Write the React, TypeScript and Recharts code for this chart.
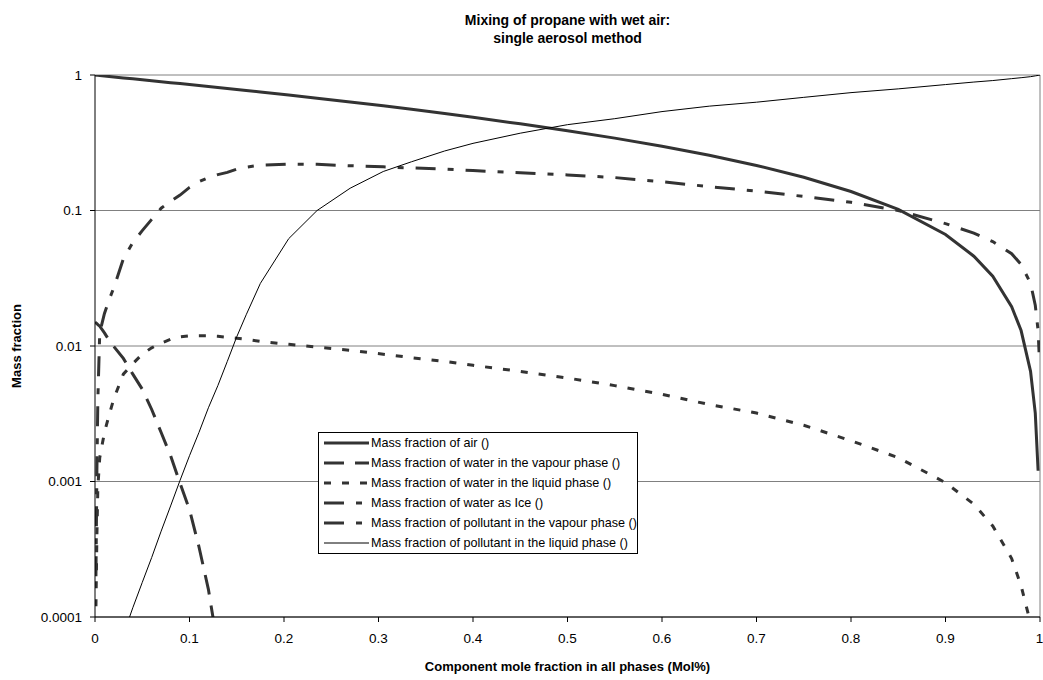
import React from 'react';
import { LineChart, Line, XAxis, YAxis, CartesianGrid, Legend, ReferenceLine } from 'recharts';

const FONT = '"Liberation Sans", Arial, Helvetica, sans-serif';

const xValues = [0, 0.001, 0.002, 0.003, 0.005, 0.01, 0.015, 0.02, 0.03, 0.04, 0.05, 0.06, 0.07, 0.08, 0.09, 0.1, 0.11, 0.12, 0.13, 0.14, 0.15, 0.16, 0.175, 0.205, 0.235, 0.27, 0.305, 0.335, 0.37, 0.4, 0.45, 0.5, 0.55, 0.6, 0.65, 0.7, 0.75, 0.8, 0.85, 0.9, 0.93, 0.95, 0.97, 0.98, 0.99, 0.995, 0.998, 0.999, 1];

const airFraction = [1, 0.998, 0.996, 0.994, 0.991, 0.983, 0.975, 0.967, 0.952, 0.937, 0.922, 0.907, 0.893, 0.878, 0.864, 0.85, 0.836, 0.822, 0.808, 0.795, 0.782, 0.769, 0.749, 0.711, 0.674, 0.633, 0.592, 0.558, 0.519, 0.487, 0.436, 0.388, 0.342, 0.298, 0.256, 0.215, 0.176, 0.138, 0.102, 0.0665, 0.046, 0.0327, 0.0195, 0.013, 0.0065, 0.0032, 0.0012, null, null];

const waterVapour = [0.015, 0.0148, 0.0146, 0.0144, 0.014, 0.0125, 0.011, 0.0099, 0.0081, 0.0062, 0.0048, 0.0034, 0.0023, 0.00155, 0.00097, 0.00062, 0.00033, 0.00016, 0.00006, 0.00002, null, null, null, null, null, null, null, null, null, null, null, null, null, null, null, null, null, null, null, null, null, null, null, null, null, null, null, null, null];

const waterLiquid = [null, 0.00012, 0.0004, 0.0009, 0.0015, 0.0023, 0.0031, 0.0041, 0.0062, 0.0074, 0.0087, 0.0097, 0.0105, 0.0112, 0.0117, 0.0119, 0.0119, 0.0119, 0.0118, 0.0116, 0.0114, 0.0112, 0.0108, 0.0103, 0.0098, 0.0093, 0.0087, 0.0082, 0.0077, 0.0072, 0.0065, 0.0058, 0.0051, 0.0044, 0.0037, 0.0032, 0.0026, 0.002, 0.0015, 0.00098, 0.00068, 0.00047, 0.00027, 0.00017, 0.00009, 0.00005, null, null, null];

const waterIce = xValues.map(() => null as number | null);

const pollutantVapour = [null, 0.0002, 0.0012, 0.004, 0.0125, 0.0174, 0.022, 0.027, 0.044, 0.058, 0.071, 0.086, 0.104, 0.117, 0.13, 0.148, 0.163, 0.175, 0.184, 0.191, 0.202, 0.209, 0.216, 0.22, 0.219, 0.214, 0.21, 0.206, 0.202, 0.197, 0.19, 0.183, 0.175, 0.163, 0.15, 0.139, 0.127, 0.115, 0.1, 0.08, 0.068, 0.059, 0.048, 0.04, 0.029, 0.02, 0.013, 0.009, null];

const pollutantLiquid = [null, null, null, null, null, null, null, 0.00003, 0.000074, 0.000117, 0.00018, 0.000275, 0.00043, 0.00066, 0.00102, 0.00155, 0.0023, 0.0035, 0.0051, 0.0077, 0.0117, 0.017, 0.029, 0.062, 0.1, 0.146, 0.194, 0.229, 0.275, 0.313, 0.372, 0.43, 0.476, 0.537, 0.589, 0.63, 0.684, 0.741, 0.79, 0.85, 0.887, 0.91, 0.94, 0.955, 0.972, 0.985, 0.993, 0.996, 1];

const xTicks = [0, 0.1, 0.2, 0.3, 0.4, 0.5, 0.6, 0.7, 0.8, 0.9, 1];
const yTicks = [0.0001, 0.001, 0.01, 0.1, 1];

const seriesNames = [
  'Mass fraction of air ()',
  'Mass fraction of water in the vapour phase ()',
  'Mass fraction of water in the liquid phase ()',
  'Mass fraction of water as Ice ()',
  'Mass fraction of pollutant in the vapour phase ()',
  'Mass fraction of pollutant in the liquid phase ()',
];

const seriesKeys = ['air', 'wv', 'wl', 'ice', 'pv', 'pl'];
const seriesValues = [airFraction, waterVapour, waterLiquid, waterIce, pollutantVapour, pollutantLiquid];
const seriesStyles = [
  { stroke: '#333333', width: 3, dash: undefined as string | undefined },
  { stroke: '#333333', width: 3, dash: '20 11' },
  { stroke: '#333333', width: 3, dash: '7 11' },
  { stroke: '#333333', width: 3, dash: '20 12 6 12' },
  { stroke: '#333333', width: 3, dash: '20 12 6 12' },
  { stroke: '#000000', width: 1, dash: undefined as string | undefined },
];

const data = xValues.map((x, i) => {
  const row: Record<string, number | null> = { x };
  seriesKeys.forEach((k, s) => {
    row[k] = seriesValues[s][i];
  });
  return row;
});

const LegendBox = () => (
  <div
    style={{
      width: 318,
      height: 120,
      border: '1px solid #000',
      background: '#fff',
      fontFamily: FONT,
      fontSize: 12.6,
      color: '#000',
      boxSizing: 'content-box',
    }}
  >
    {seriesNames.map((name, i) => (
      <div key={name} style={{ height: 20, display: 'flex', alignItems: 'center' }}>
        <svg width={52} height={12} style={{ display: 'block', flex: 'none' }}>
          <line
            x1={5}
            y1={6}
            x2={50}
            y2={6}
            stroke={seriesStyles[i].stroke}
            strokeWidth={seriesStyles[i].width}
            strokeDasharray={seriesStyles[i].dash}
          />
        </svg>
        <span style={{ whiteSpace: 'nowrap' }}>{name}</span>
      </div>
    ))}
  </div>
);

export default function App() {
  return (
    <div style={{ position: 'absolute', left: 0, top: 0, width: 1043, height: 680, background: '#fff' }}>
      <LineChart
        width={1043}
        height={680}
        data={data}
        margin={{ top: 75, right: 3, bottom: 23, left: 0 }}
      >
        <CartesianGrid vertical={false} stroke="#808080" strokeWidth={1} />
        <XAxis
          dataKey="x"
          type="number"
          domain={[0, 1]}
          ticks={xTicks}
          tickFormatter={(v: number) => String(v)}
          height={40}
          tickSize={5}
          tickMargin={11}
          stroke="#000"
          tick={{ fill: '#000', fontSize: 13.5, fontFamily: FONT }}
          tickLine={{ stroke: '#000' }}
          axisLine={{ stroke: '#000' }}
          allowDataOverflow
        />
        <YAxis
          scale="log"
          type="number"
          domain={[0.0001, 1]}
          ticks={yTicks}
          tickFormatter={(v: number) => String(v)}
          width={95}
          tickSize={5}
          tickMargin={8}
          stroke="#000"
          tick={{ fill: '#000', fontSize: 13.5, fontFamily: FONT }}
          tickLine={{ stroke: '#000' }}
          axisLine={{ stroke: '#000' }}
          allowDataOverflow
        />
        <ReferenceLine x={1} stroke="#808080" strokeWidth={1} ifOverflow="extendDomain" />
        {seriesKeys.map((k, i) => (
          <Line
            key={k}
            dataKey={k}
            name={seriesNames[i]}
            type="linear"
            stroke={seriesStyles[i].stroke}
            strokeWidth={seriesStyles[i].width}
            strokeDasharray={seriesStyles[i].dash}
            dot={false}
            activeDot={false}
            isAnimationActive={false}
            connectNulls={false}
          />
        ))}
        <Legend
          layout="vertical"
          align="center"
          verticalAlign="middle"
          content={() => <LegendBox />}
          wrapperStyle={{ position: 'absolute', left: 318, top: 432, width: 320, height: 122 }}
        />
      </LineChart>
      <div
        style={{
          position: 'absolute',
          left: 95,
          width: 945,
          top: 11,
          textAlign: 'center',
          fontFamily: FONT,
          fontWeight: 'bold',
          fontSize: 14,
          lineHeight: '18px',
          color: '#000',
        }}
      >
        Mixing of propane with wet air:
        <br />
        single aerosol method
      </div>
      <div
        style={{
          position: 'absolute',
          left: 95,
          width: 945,
          top: 658,
          textAlign: 'center',
          fontFamily: FONT,
          fontWeight: 'bold',
          fontSize: 13,
          lineHeight: '18px',
          color: '#000',
        }}
      >
        Component mole fraction in all phases (Mol%)
      </div>
      <div
        style={{
          position: 'absolute',
          left: -83,
          width: 200,
          top: 337,
          height: 18,
          textAlign: 'center',
          fontFamily: FONT,
          fontWeight: 'bold',
          fontSize: 13,
          lineHeight: '18px',
          color: '#000',
          transform: 'rotate(-90deg)',
          transformOrigin: 'center center',
        }}
      >
        Mass fraction
      </div>
    </div>
  );
}
